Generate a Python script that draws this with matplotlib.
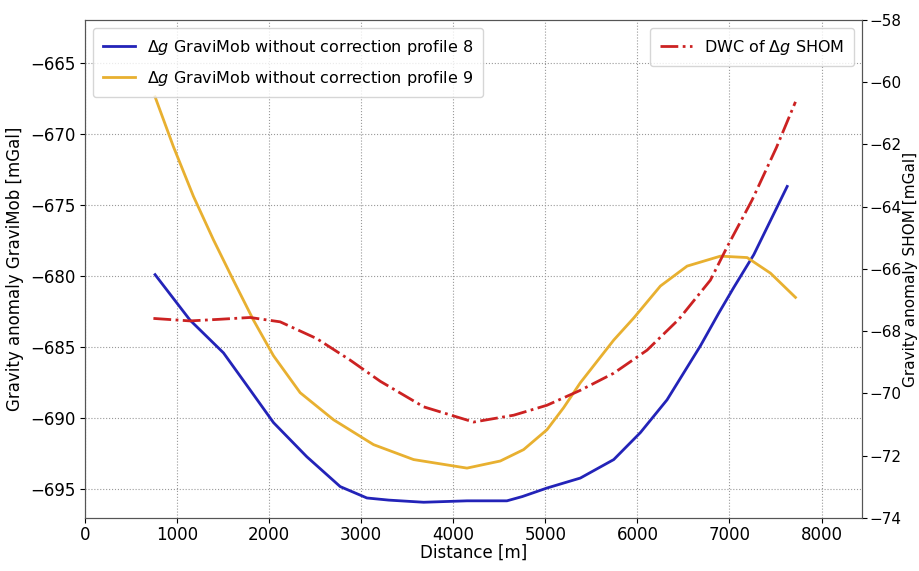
import numpy as np
import matplotlib
matplotlib.use("Agg")
import matplotlib.pyplot as plt

# profile 8 (GraviMob, left axis)
dist_p8 = [761, 1141, 1504, 1793, 2047, 2409, 2772, 3062, 3300, 3678, 4150,
           4583, 4750, 5018, 5380, 5743, 6033, 6322, 6685, 6884, 7047, 7264, 7627]
grav_p8 = [-679.9, -683.1, -685.4, -688.0, -690.3, -692.7, -694.8, -695.6, -695.75, -695.9, -695.8,
           -695.8, -695.5, -694.9, -694.2, -692.9, -691.0, -688.7, -684.9, -682.6, -680.8, -678.5, -673.7]

# profile 9 (GraviMob, left axis)
dist_p9 = [761, 960, 1178, 1395, 1612, 1830, 2047, 2337, 2699, 3134, 3569, 4149,
           4511, 4764, 5018, 5199, 5380, 5743, 5960, 6250, 6540, 6902, 7192, 7446, 7717]
grav_p9 = [-667.4, -670.9, -674.4, -677.45, -680.3, -683.1, -685.6, -688.2, -690.1, -691.85, -692.9, -693.5,
           -693.0, -692.2, -690.8, -689.25, -687.5, -684.5, -682.95, -680.7, -679.3, -678.6, -678.7, -679.8, -681.5]

# DWC of SHOM (right axis)
dist_shom = [743, 1141, 1450, 1793, 2120, 2518, 2880, 3207, 3678, 4221, 4656,
             5018, 5380, 5743, 6105, 6449, 6793, 6975, 7245, 7510, 7717]
grav_shom = [-67.59, -67.67, -67.62, -67.56, -67.70, -68.24, -68.93, -69.61, -70.43, -70.92, -70.70,
             -70.38, -69.90, -69.35, -68.61, -67.62, -66.36, -65.29, -63.79, -62.1, -60.63]

fig = plt.figure(figsize=(9.2, 5.71), dpi=100)
ax = fig.add_axes([0.0924, 0.093, 0.8446, 0.872])
ax2 = ax.twinx()

l1, = ax.plot(dist_p8, grav_p8, color="#2323b8", lw=2,
              label=r"$\Delta g$ GraviMob without correction profile 8")
l2, = ax.plot(dist_p9, grav_p9, color="#e8b030", lw=2,
              label=r"$\Delta g$ GraviMob without correction profile 9")
l3, = ax2.plot(dist_shom, grav_shom, color="#cc2222", lw=2, ls="-.",
               label=r"DWC of $\Delta g$ SHOM")

ax.set_xlim(0, 8440)
ax.set_ylim(-697, -662)
ax2.set_ylim(-74, -58)
ax.set_xticks(np.arange(0, 8001, 1000))
ax.set_yticks(np.arange(-695, -664, 5))
ax2.set_yticks(np.arange(-74, -57, 2))

ax.grid(True, ls=":", color="#999999", lw=0.8)
ax.set_xlabel("Distance [m]", fontsize=12, labelpad=0)
ax.set_ylabel("Gravity anomaly GraviMob [mGal]", fontsize=12)
ax2.set_ylabel("Gravity anomaly SHOM [mGal]", fontsize=11, labelpad=1)
ax.tick_params(labelsize=12)
ax.tick_params(axis="x", pad=2)
ax2.tick_params(labelsize=11, pad=2)
for a in (ax, ax2):
    for s in a.spines.values():
        s.set_color("#555555")

ax.legend(handles=[l1, l2], loc="upper left", fontsize=11.5,
          labelspacing=0.75, borderpad=0.6)
ax2.legend(handles=[l3], loc="upper right", fontsize=11.5, borderpad=0.6)

fig.savefig("out.png", dpi=100)
